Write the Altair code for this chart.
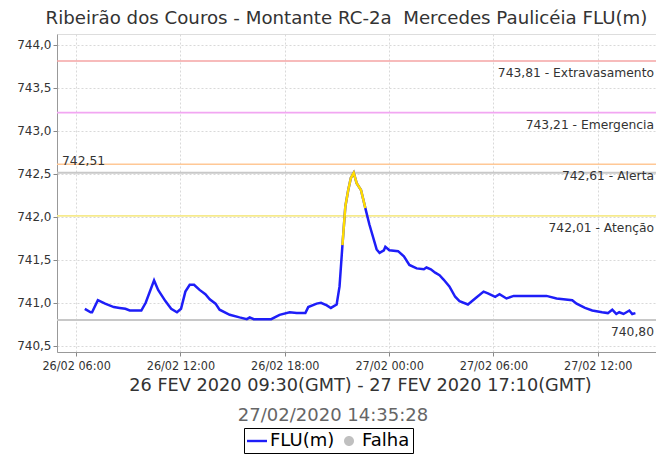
import altair as alt
import pandas as pd

# ---- data ----
tempos = [
    "2020-02-26T06:30", "2020-02-26T06:50", "2020-02-26T06:55", "2020-02-26T07:15", "2020-02-26T07:40",
    "2020-02-26T08:10", "2020-02-26T08:30", "2020-02-26T08:50", "2020-02-26T09:05", "2020-02-26T09:45",
    "2020-02-26T10:00", "2020-02-26T10:29", "2020-02-26T10:43", "2020-02-26T11:08", "2020-02-26T11:28",
    "2020-02-26T11:48", "2020-02-26T12:02", "2020-02-26T12:17", "2020-02-26T12:32", "2020-02-26T12:47",
    "2020-02-26T13:06", "2020-02-26T13:26", "2020-02-26T13:41", "2020-02-26T14:01", "2020-02-26T14:15",
    "2020-02-26T14:50", "2020-02-26T15:24", "2020-02-26T15:49", "2020-02-26T15:59", "2020-02-26T16:13",
    "2020-02-26T17:13", "2020-02-26T17:42", "2020-02-26T18:17", "2020-02-26T18:41", "2020-02-26T19:11",
    "2020-02-26T19:21", "2020-02-26T19:50", "2020-02-26T20:05", "2020-02-26T20:25", "2020-02-26T20:39",
    "2020-02-26T20:59", "2020-02-26T21:09", "2020-02-26T21:19", "2020-02-26T21:29", "2020-02-26T21:39",
    "2020-02-26T21:48", "2020-02-26T21:58", "2020-02-26T22:08", "2020-02-26T22:23", "2020-02-26T22:38",
    "2020-02-26T22:52", "2020-02-26T23:17", "2020-02-26T23:27", "2020-02-26T23:42", "2020-02-26T23:47",
    "2020-02-27T00:01", "2020-02-27T00:31", "2020-02-27T00:51", "2020-02-27T01:10", "2020-02-27T01:35",
    "2020-02-27T02:00", "2020-02-27T02:09", "2020-02-27T02:24", "2020-02-27T02:39", "2020-02-27T02:54",
    "2020-02-27T03:08", "2020-02-27T03:28", "2020-02-27T03:48", "2020-02-27T04:03", "2020-02-27T04:32",
    "2020-02-27T04:57", "2020-02-27T05:26", "2020-02-27T05:41", "2020-02-27T06:06", "2020-02-27T06:21",
    "2020-02-27T06:45", "2020-02-27T07:10", "2020-02-27T08:38", "2020-02-27T09:03", "2020-02-27T09:38",
    "2020-02-27T10:32", "2020-02-27T10:47", "2020-02-27T11:16", "2020-02-27T11:41", "2020-02-27T12:15",
    "2020-02-27T12:35", "2020-02-27T12:50", "2020-02-27T13:04", "2020-02-27T13:14", "2020-02-27T13:29",
    "2020-02-27T13:49", "2020-02-27T13:59", "2020-02-27T14:10",
]
nivel = [
    740.93, 740.89, 740.89, 741.03, 740.99,
    740.95, 740.94, 740.93, 740.91, 740.91,
    741.00, 741.26, 741.15, 741.02, 740.93,
    740.89, 740.93, 741.13, 741.21, 741.21,
    741.15, 741.10, 741.04, 740.99, 740.92,
    740.86, 740.83, 740.81, 740.83, 740.81,
    740.81, 740.86, 740.89, 740.88, 740.88,
    740.95, 740.99, 741.00, 740.97, 740.94,
    740.98, 741.19, 741.67, 742.12, 742.31,
    742.45, 742.51, 742.39, 742.31, 742.10,
    741.91, 741.62, 741.58, 741.61, 741.65,
    741.61, 741.60, 741.54, 741.44, 741.40,
    741.39, 741.41, 741.39, 741.35, 741.32,
    741.27, 741.19, 741.07, 741.02, 740.98,
    741.05, 741.13, 741.11, 741.07, 741.10,
    741.05, 741.08, 741.08, 741.08, 741.05,
    741.03, 740.99, 740.94, 740.91, 740.89,
    740.88, 740.92, 740.87, 740.89, 740.87,
    740.91, 740.87, 740.88,
]

limiares = [743.81, 743.21, 742.61, 742.01]
limiar_rotulos = ["743,81 - Extravasamento", "743,21 - Emergencia", "742,61 - Alerta", "742,01 - Atenção"]
limiar_cores = ["#f4a4a4", "#f2a6f2", "#ffc896", "#f6ea8c"]

maximo = 742.51
minimo = 740.80

series = ["FLU(m)", "Falha"]
series_cores = ["#1e1ef8", "#c0c0c0"]

titulo = "Ribeirão dos Couros - Montante RC-2a\u00a0 Mercedes Paulicéia FLU(m)"
periodo = "26 FEV 2020 09:30(GMT) - 27 FEV 2020 17:10(GMT)"
carimbo = "27/02/2020 14:35:28"

y_ticks = [740.5, 741.0, 741.5, 742.0, 742.5, 743.0, 743.5, 744.0]
y_dom = [740.428, 744.124]

# ---- build tables ----
df = pd.DataFrame({"t": tempos, "v": nivel, "serie": "FLU(m)"})
atencao = limiares[3]
df["amarelo"] = [
    (nivel[i] >= atencao) or (i + 1 < len(nivel) and nivel[i + 1] >= atencao)
    for i in range(len(nivel))
]

lim_df = pd.DataFrame({"v": limiares, "rotulo": limiar_rotulos, "cor": limiar_cores})
ref_df = pd.DataFrame({"v": [maximo, minimo],
                       "rotulo": [f"{maximo:.2f}".replace(".", ","), f"{minimo:.2f}".replace(".", ",")],
                       "lado": ["esq", "dir"]})

W, H = 599, 318
FONT = "DejaVu Sans"
FONT_COND = "DejaVu Sans Condensed, DejaVu Sans"

x_scale = alt.Scale(domain=[alt.DateTime(year=2020, month=2, date=26, hours=4, minutes=54),
                            alt.DateTime(year=2020, month=2, date=27, hours=15, minutes=21)])
x_ticks = [alt.DateTime(year=2020, month=2, date=d, hours=h)
           for d, h in [(26, 6), (26, 12), (26, 18), (27, 0), (27, 6), (27, 12)]]
y_scale = alt.Scale(domain=y_dom, nice=False, zero=False)

x_enc = alt.X("t:T", scale=x_scale,
              axis=alt.Axis(values=x_ticks, format="%d/%m %H:%M", title=periodo,
                            labelFontSize=12.5, labelColor="#333", labelFont=FONT_COND,
                            titleFont=FONT, titleFontSize=17.7, titleFontWeight="normal",
                            titleColor="#333", titlePadding=5, labelPadding=3,
                            titleX=303, titleAlign="center",
                            tickSize=4, tickColor="#888", domainColor="#999",
                            grid=True, gridDash=[2, 2], gridColor="#d9d9d9",
                            labelFlush=False))
y_enc = alt.Y("v:Q", scale=y_scale,
              axis=alt.Axis(values=y_ticks, title=None,
                            labelExpr="replace(format(datum.value, '.1f'), '.', ',')",
                            labelFontSize=12, labelColor="#333", labelFont=FONT,
                            tickSize=4, tickColor="#888", domainColor="#999",
                            grid=True, gridDash=[2, 2], gridColor="#d9d9d9"))

base = alt.Chart(df)

linha = base.mark_line(strokeWidth=2.5, color=series_cores[0], clip=True).encode(x=x_enc, y=y_enc)
linha_am = base.transform_filter("datum.amarelo").mark_line(
    strokeWidth=2.5, color="#ffdc00", clip=True).encode(x="t:T", y="v:Q")

circulo = "M-0.5,0A0.5,0.5 0 1,0 0.5,0A0.5,0.5 0 1,0 -0.5,0Z"
traco = "M-1,-0.12L1,-0.12L1,0.12L-1,0.12Z"
legenda = base.transform_filter("datum.serie == 'Falha'").mark_point(filled=True, opacity=1).encode(
    x="t:T", y="v:Q",
    color=alt.Color("serie:N", scale=alt.Scale(domain=series, range=series_cores),
                    legend=alt.Legend(title=None, orient="none", legendX=187, legendY=394,
                                      direction="horizontal", strokeColor="#000",
                                      fillColor="#fff", padding=3, labelFontSize=18,
                                      labelFont=FONT, labelColor="#000", symbolSize=400,
                                      symbolStrokeWidth=0, columnPadding=4,
                                      labelOffset=3)),
    shape=alt.Shape("serie:N", scale=alt.Scale(domain=series, range=[traco, circulo])),
)

regras = alt.Chart(lim_df).mark_rule(strokeWidth=1.6).encode(
    y=alt.Y("v:Q"), stroke=alt.Stroke("cor:N", scale=None))
rotulos = alt.Chart(lim_df).mark_text(align="right", baseline="middle", dy=12,
                                      fontSize=12.3, font=FONT, color="#333").encode(
    y="v:Q", x=alt.value(W - 2), text="rotulo:N")

ref_regras = alt.Chart(ref_df).mark_rule(strokeWidth=2, color="#c8c8c8").encode(y="v:Q")
ref_esq = alt.Chart(ref_df).transform_filter("datum.lado == 'esq'").mark_text(
    align="left", baseline="middle", dy=-12, fontSize=12.3, font=FONT, color="#333").encode(
    y="v:Q", x=alt.value(5), text="rotulo:N")
ref_dir = alt.Chart(ref_df).transform_filter("datum.lado == 'dir'").mark_text(
    align="right", baseline="middle", dy=12, fontSize=12.3, font=FONT, color="#333").encode(
    y="v:Q", x=alt.value(W - 2), text="rotulo:N")

stamp = alt.Chart(pd.DataFrame({"s": [carimbo]})).mark_text(
    align="center", baseline="middle", fontSize=18, font=FONT, color="#666").encode(
    x=alt.value(276), y=alt.value(382), text="s:N")

chart = alt.layer(
    ref_regras, regras, rotulos, ref_esq, ref_dir, linha, linha_am, legenda, stamp
).properties(
    width=W, height=H,
    title=alt.Title(titulo, font=FONT, fontSize=18.2, fontWeight="normal", color="#333",
                    anchor="middle", dx=-10, offset=6),
    autosize=alt.AutoSizeParams(type="none"),
    padding={"left": 49, "top": 26, "right": 0, "bottom": 103},
).configure_view(stroke="#cccccc").configure(font=FONT)

chart.save("out.html", embed_options={"renderer": "svg", "actions": False})
